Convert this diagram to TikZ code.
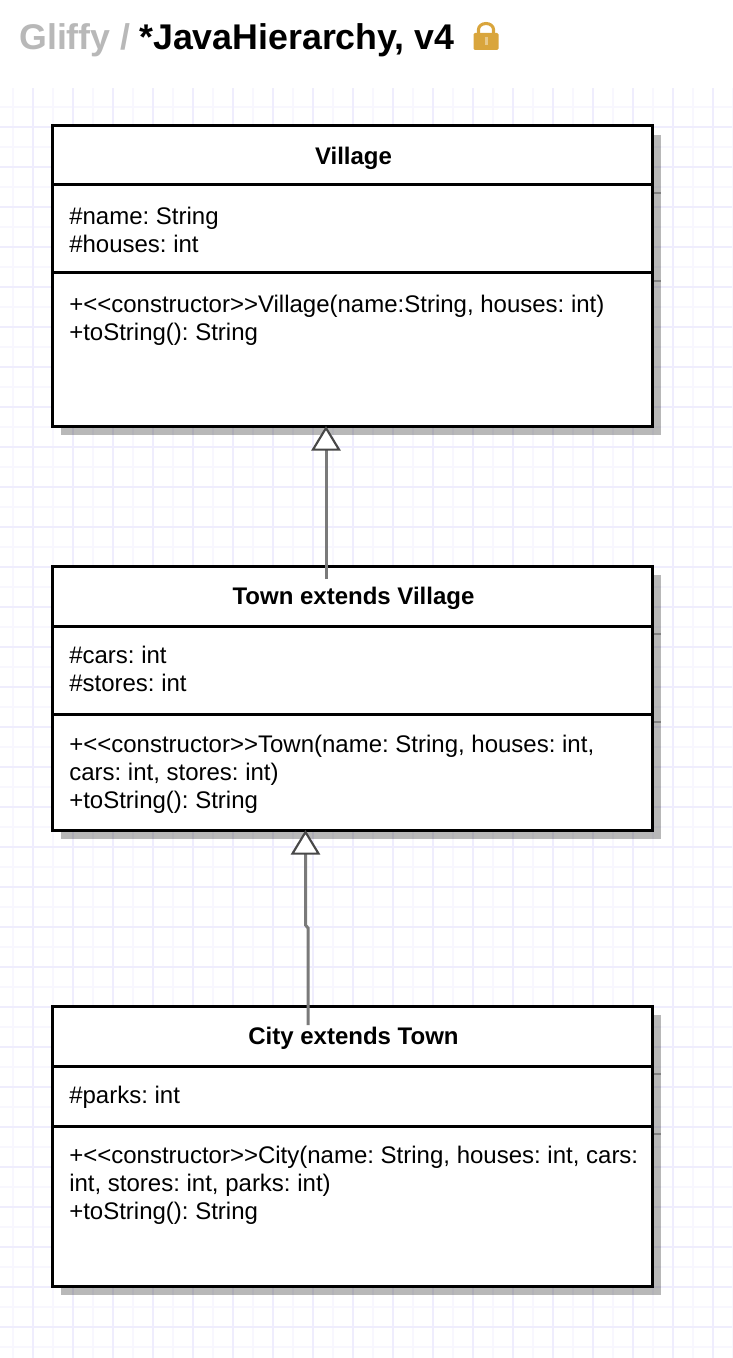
\documentclass[tikz,border=0pt]{standalone}
\usepackage{fontspec}
\setmainfont{Liberation Sans}
\usetikzlibrary{positioning,shadows,arrows.meta}
\definecolor{gridmajor}{HTML}{EFEDFD}
\definecolor{gridminor}{HTML}{F8F7FE}
\definecolor{lockgold}{HTML}{D9A53C}
\frenchspacing
\tikzset{part/.style={draw=black,fill=white,rectangle,line width=2.25pt,outer sep=0pt,inner sep=0pt,minimum width=450pt,minimum height=#1*0.75pt}}
\tikzstyle{shade} = [drop shadow={shadow xshift=6.5pt,shadow yshift=-6.5pt,fill=black,opacity=0.28}]
\tikzstyle{classname} = [font=\fontsize{18}{21}\selectfont\bfseries,text height=15pt,text depth=2pt,execute at begin node=\hspace*{2.2pt}]
\tikzstyle{members} = [anchor=north west,inner sep=0pt,align=left,font=\fontsize{18}{21}\selectfont]
\tikzstyle{extends} = [draw=black!52,line width=2.25pt,-{Triangle[open,fill=white,color=black!72,length=18.5pt,width=22pt,line width=1.6pt]}]
\tikzstyle{tick} = [draw=black!50,line width=0.8pt]

\begin{document}
\begin{tikzpicture}[x=0.75pt,y=-0.75pt]
\useasboundingbox (0,0) rectangle (732,1358);

% paper grid
\foreach \gx in {13,53,...,733} \draw[gridminor,line width=1.5pt] (\gx,88) -- (\gx,1358);
\foreach \gy in {107,147,...,1358} \draw[gridminor,line width=1.5pt] (0,\gy) -- (732,\gy);
\foreach \gx in {33,73,...,733} \draw[gridmajor,line width=1.5pt] (\gx,88) -- (\gx,1358);
\foreach \gy in {127,167,...,1358} \draw[gridmajor,line width=1.5pt] (0,\gy) -- (732,\gy);

% heading
\node[anchor=base west,inner sep=0pt,text=black!28,font=\fontsize{26.8}{30}\selectfont\bfseries] (gliffy) at (19,50) {Gliffy /};
\node[anchor=base west,inner sep=0pt,font=\fontsize{26.8}{30}\selectfont\bfseries] (docname) at (139,50) {*JavaHierarchy, v4};
\fill[lockgold,rounded corners=1pt] (473.5,33) rectangle (498.5,50);
\draw[lockgold,line width=2.3pt] (478.5,34) -- (478.5,29.5) arc[start angle=180,end angle=360,x radius=7.5,y radius=6] -- (493.5,34);
\fill[white,opacity=0.4] (484.5,37) rectangle (487.5,45);

% Village
\node[part=59,shade,classname] (vT) at (352,155.5) {Village};
\node[part=88,shade] (vA) [below=0pt of vT] {};
\node[part=153,shade] (vM) [below=0pt of vA] {};
\node[members] (vAtext) at ([shift={(17,22)}]vA.north west) {\#name: String\\\#houses: int};
\node[members] (vMtext) at ([shift={(17,22)}]vM.north west) {+<{}<constructor>{}>Village(name:String, houses: int)\\+toString(): String};

% Town
\node[part=60,shade,classname] (tT) at (352,596) {Town extends Village};
\node[part=88,shade] (tA) [below=0pt of tT] {};
\node[part=116,shade] (tM) [below=0pt of tA] {};
\node[members] (tAtext) at ([shift={(17,20)}]tA.north west) {\#cars: int\\\#stores: int};
\node[members] (tMtext) at ([shift={(17,21)}]tM.north west) {+<{}<constructor>{}>Town(name: String, houses: int,\\cars: int, stores: int)\\+toString(): String};

% City
\node[part=60,shade,classname] (cT) at (352,1036) {City extends Town};
\node[part=60,shade] (cA) [below=0pt of cT] {};
\node[part=160,shade] (cM) [below=0pt of cA] {};
\node[members] (cAtext) at ([shift={(17,20)}]cA.north west) {\#parks: int};
\node[members] (cMtext) at ([shift={(17,20)}]cM.north west) {+<{}<constructor>{}>City(name: String, houses: int, cars:\\int, stores: int, parks: int)\\+toString(): String};

\foreach \n in {vT,vA,tT,tA,cT,cA}
	\draw[tick] ([shift={(1.5,8)}]\n.south east) -- ++(7,0);

% inheritance
\coordinate (tStart) at (326,579);
\coordinate (cStart) at (308,1025);
\coordinate (cBend) at (305.5,925);
\draw[extends] (tStart) -- (tStart |- vM.south);
\draw[extends] (cStart) -- (308,928) -- (cBend) -- (cBend |- tM.south);

\end{tikzpicture}
\end{document}
